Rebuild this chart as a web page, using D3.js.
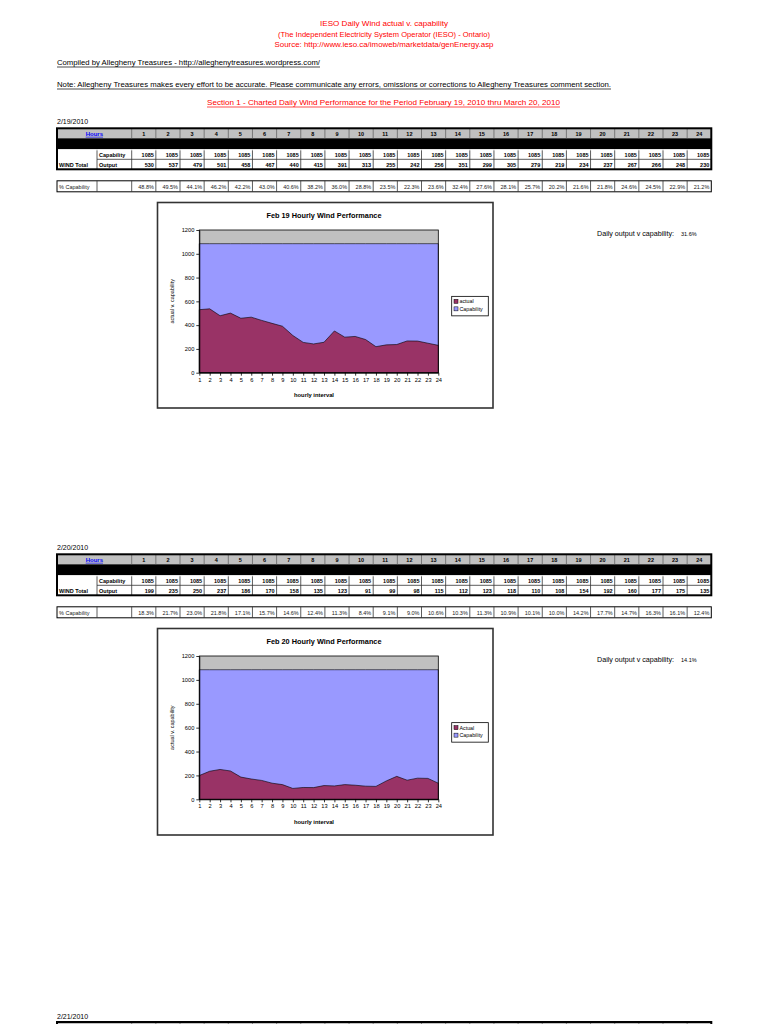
<!DOCTYPE html>
<html><head><meta charset="utf-8">
<script src="https://cdn.jsdelivr.net/npm/d3@7"></script>
<style>body{margin:0;background:#fff}svg{display:block}text{font-family:"Liberation Sans",Arial,sans-serif}</style>
</head><body><svg id="c" width="768" height="1024"></svg>
<script>
const hours = [1,2,3,4,5,6,7,8,9,10,11,12,13,14,15,16,17,18,19,20,21,22,23,24];
const capability = [1085,1085,1085,1085,1085,1085,1085,1085,1085,1085,1085,1085,1085,1085,1085,1085,1085,1085,1085,1085,1085,1085,1085,1085];
const output19 = [530,537,479,501,458,467,440,415,391,313,255,242,256,351,299,305,279,219,234,237,267,266,248,230];
const pct19 = ["48.8%","49.5%","44.1%","46.2%","42.2%","43.0%","40.6%","38.2%","36.0%","28.8%","23.5%","22.3%","23.6%","32.4%","27.6%","28.1%","25.7%","20.2%","21.6%","21.8%","24.6%","24.5%","22.9%","21.2%"];
const output20 = [199,235,250,237,186,170,158,135,123,91,99,98,115,112,123,118,110,108,154,192,160,177,175,135];
const pct20 = ["18.3%","21.7%","23.0%","21.8%","17.1%","15.7%","14.6%","12.4%","11.3%","8.4%","9.1%","9.0%","10.6%","10.3%","11.3%","10.9%","10.1%","10.0%","14.2%","17.7%","14.7%","16.3%","16.1%","12.4%"];
const yTicks = [0,200,400,600,800,1000,1200];
const headerLines = ["IESO Daily Wind actual v. capability","(The Independent Electricity System Operator (IESO) - Ontario)","Source: http://www.ieso.ca/imoweb/marketdata/genEnergy.asp"];

const svg = d3.select('#c');
svg.append('rect').attr('width',768).attr('height',1024).attr('fill','#fff');

function txt(x,y,s,o={}){
  const t = svg.append('text').attr('x',x).attr('y',y).text(s)
    .attr('font-size',o.size||7).attr('fill',o.fill||'#000')
    .attr('text-anchor',o.anchor||'start');
  if(o.bold) t.attr('font-weight','bold');
  if(o.len){ t.attr('textLength',o.len).attr('lengthAdjust','spacingAndGlyphs'); }
  if(o.ul) t.attr('text-decoration','underline');
  return t;
}
function line(x1,y1,x2,y2,stroke,w){
  svg.append('line').attr('x1',x1).attr('y1',y1).attr('x2',x2).attr('y2',y2).attr('stroke',stroke).attr('stroke-width',w);
}

// Header
txt(384,26,headerLines[0],{fill:'#ff0000',anchor:'middle',len:128,size:7});
txt(384,37,headerLines[1],{fill:'#ff0000',anchor:'middle',len:212,size:7});
txt(384,47,headerLines[2],{fill:'#ff0000',anchor:'middle',len:219,size:7});
txt(57,65,"Compiled by Allegheny Treasures - http://alleghenytreasures.wordpress.com/",{len:263,size:7.5});
line(57,67,320,67,'#000',0.7);
txt(57,87,"Note:  Allegheny Treasures makes every effort to be accurate.  Please communicate any errors, omissions or corrections to Allegheny Treasures comment section.",{len:554,size:7.5});
line(57,89,611,89,'#000',0.7);
txt(207,105,"Section 1 - Charted Daily Wind Performance for the Period February 19, 2010 thru March 20, 2010",{fill:'#ff0000',len:353,size:7.5});
line(207,107,560,107,'#ff0000',0.7);

const colX = d3.scaleBand().domain(hours).range([131.7,711.3]).padding(0);
const xA = 57, xB = 97, xC = 131.7, xR = 711.3;

function drawTable(T, date, outputs, pcts){
  txt(57,T-4,date,{size:7});
  svg.append('rect').attr('x',xA).attr('y',T).attr('width',xR-xA).attr('height',10).attr('fill','#c0c0c0');
  svg.append('rect').attr('x',xA).attr('y',T+10).attr('width',xR-xA).attr('height',11).attr('fill','#000');
  hours.forEach(h=>{ line(colX(h),T,colX(h),T+10,'#666',0.8); line(colX(h),T+21,colX(h),T+41,'#333',0.8); });
  line(xB,T+21,xB,T+41,'#333',0.8);
  line(xB,T+31,xR,T+31,'#333',0.8);
  line(xA,T+21.5,xR,T+21.5,'#fff',1);
  svg.append('rect').attr('x',xA).attr('y',T).attr('width',xR-xA).attr('height',41).attr('fill','none').attr('stroke','#000').attr('stroke-width',2);
  txt((xA+xC)/2,T+7.5,"Hours",{size:6,bold:true,fill:'#0000ff',anchor:'middle',ul:true});
  hours.forEach(h=>txt(colX(h)+colX.bandwidth()/2,T+7.5,String(h),{size:5.5,bold:true,anchor:'middle'}));
  txt(xB+2,T+28.5,"Capability",{size:5.5,bold:true});
  txt(xB+2,T+38.5,"Output",{size:5.5,bold:true});
  txt(xA+2,T+38.5,"WIND Total",{size:5.5,bold:true});
  hours.forEach((h,i)=>{
    txt(colX(h)+colX.bandwidth()-2,T+28.5,String(capability[i]),{size:5.5,bold:true,anchor:'end'});
    txt(colX(h)+colX.bandwidth()-2,T+38.5,String(outputs[i]),{size:5.5,bold:true,anchor:'end'});
  });
  const P = T+52.5;
  svg.append('rect').attr('x',xA).attr('y',P).attr('width',xR-xA).attr('height',11).attr('fill','none').attr('stroke','#000').attr('stroke-width',1);
  line(xB,P,xB,P+11,'#333',0.8);
  hours.forEach((h,i)=>{
    line(colX(h),P,colX(h),P+11,'#333',0.8);
    txt(colX(h)+colX.bandwidth()-2,P+7.8,pcts[i],{size:5.5,anchor:'end',fill:'#222'});
  });
  txt(xA+2,P+7.8,"% Capability",{size:5.5,fill:'#222'});
}

function drawChart(fTop,fBot,pTop,pBot,title,outputs,actualLabel,daily){
  const x = d3.scaleLinear().domain([1,24]).range([199.3,438.3]);
  const y = d3.scaleLinear().domain([0,1200]).range([pBot,pTop]);
  svg.append('rect').attr('x',157.5).attr('y',fTop).attr('width',335.5).attr('height',fBot-fTop)
    .attr('fill','#fff').attr('stroke','#333').attr('stroke-width',1.6);
  svg.append('rect').attr('x',x(1)).attr('y',pTop).attr('width',x(24)-x(1)).attr('height',pBot-pTop).attr('fill','#c0c0c0');
  const area = vals => d3.area().x((d,i)=>x(hours[i])).y0(y(0)).y1(d=>y(d))(vals);
  svg.append('path').attr('d',area(capability)).attr('fill','#9999ff').attr('stroke','#000').attr('stroke-width',0.6);
  svg.append('path').attr('d',area(outputs)).attr('fill','#993366').attr('stroke','#000').attr('stroke-width',0.6);
  svg.append('rect').attr('x',x(1)).attr('y',pTop).attr('width',x(24)-x(1)).attr('height',pBot-pTop).attr('fill','none').attr('stroke','#000').attr('stroke-width',0.8);
  const ay = svg.append('g').attr('transform',`translate(${x(1)},0)`).call(d3.axisLeft(y).tickValues(yTicks).tickSize(3).tickSizeOuter(0).tickPadding(2).tickFormat(d3.format('d')));
  const ax = svg.append('g').attr('transform',`translate(0,${pBot})`).call(d3.axisBottom(x).tickValues(hours).tickSize(3).tickSizeOuter(0).tickPadding(2).tickFormat(d3.format('d')));
  [ay,ax].forEach(a=>{a.selectAll('text').attr('font-size',5.7).attr('fill','#000').attr('font-family','"Liberation Sans",Arial,sans-serif'); a.selectAll('line,path').attr('stroke','#000').attr('stroke-width',0.8);});
  txt(324,fTop+15,title,{size:6.5,bold:true,anchor:'middle',len:115});
  txt(314,pBot+24.5,"hourly interval",{size:5.8,bold:true,anchor:'middle'});
  svg.append('text').attr('transform',`translate(174,${(pTop+pBot)/2}) rotate(-90)`).attr('text-anchor','middle')
    .attr('font-size',5.5).text("actual v. capability");
  const lT = (pTop+pBot)/2 - 5;
  svg.append('rect').attr('x',451.7).attr('y',lT).attr('width',36.6).attr('height',19.5).attr('fill','#fff').attr('stroke','#000').attr('stroke-width',0.8);
  [[actualLabel,'#993366'],["Capability",'#9999ff']].forEach((d,i)=>{
    svg.append('rect').attr('x',454).attr('y',lT+3+i*7.5).attr('width',4).attr('height',4).attr('fill',d[1]).attr('stroke','#000').attr('stroke-width',0.5);
    txt(459.5,lT+7+i*7.5,d[0],{size:5.3});
  });
  txt(597,fTop+33,"Daily output v capability:",{size:6.5,len:77});
  txt(681,fTop+33,daily,{size:5.5});
}

drawTable(128.3,"2/19/2010",output19,pct19);
drawChart(202.5,408,230,372.7,"Feb 19 Hourly Wind Performance",output19,"actual","31.6%");
drawTable(554.3,"2/20/2010",output20,pct20);
drawChart(628.5,835,656,799.3,"Feb 20 Hourly Wind Performance",output20,"Actual","14.1%");

txt(57,1019,"2/21/2010",{size:7});
svg.append('rect').attr('x',xA).attr('y',1022).attr('width',xR-xA).attr('height',4).attr('fill','#c0c0c0').attr('stroke','#000').attr('stroke-width',2);
hours.forEach(h=>line(colX(h),1023,colX(h),1024,'#666',0.8));
</script></body></html>
